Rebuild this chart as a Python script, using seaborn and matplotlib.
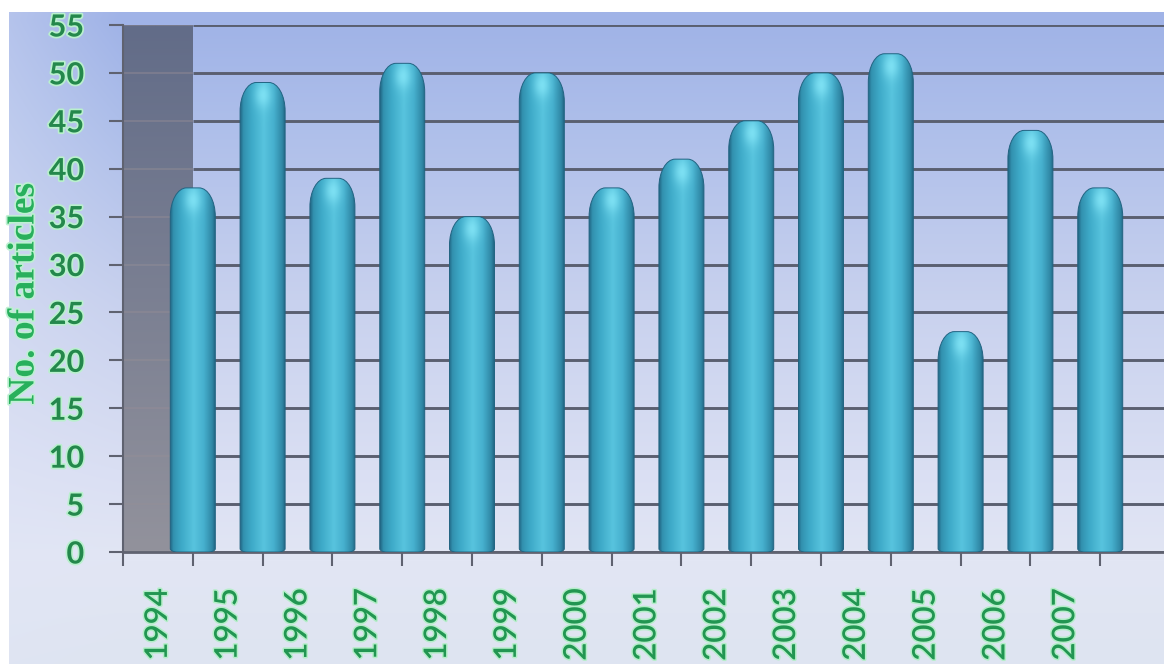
import numpy as np
import pandas as pd
import matplotlib
matplotlib.use("Agg")
import matplotlib.pyplot as plt
import matplotlib.patheffects as pe
from matplotlib.path import Path
from matplotlib.patches import PathPatch
import seaborn as sns

# Articles published per year
years = ["1994", "1995", "1996", "1997", "1998", "1999", "2000",
         "2001", "2002", "2003", "2004", "2005", "2006", "2007"]
articles = [38, 49, 39, 51, 35, 50, 38, 41, 45, 50, 52, 23, 44, 38]
y_ticks = list(range(0, 56, 5))
y_label = "No. of articles"

W, H = 1164, 664
DPI = 100

sns.set_theme(style="white")
plt.rcParams["font.family"] = ["Lato", "DejaVu Sans"]

fig = plt.figure(figsize=(W / DPI, H / DPI), dpi=DPI)


def rgb(*c):
    return tuple(v / 255 for v in c)


# ---- figure background: soft blue-to-lavender vertical gradient ----
bg = fig.add_axes([0, 0, 1, 1], zorder=-10)
bg.set_axis_off()
rows = np.arange(H)
stops_y = [0, 20, 120, 300, 470, 560, 664]
stops_c = np.array([[162, 180, 232], [160, 179, 231], [173, 190, 234],
                    [200, 209, 238], [218, 223, 243], [226, 230, 244],
                    [222, 228, 241]]) / 255
col = np.stack([np.interp(rows, stops_y, stops_c[:, k]) for k in range(3)], axis=1)
img = np.repeat(col[:, None, :], W, axis=1)
# lighter band behind the axis labels on the left
xs = np.arange(W)
lift = np.clip(1 - xs / 120, 0, 1)[None, :, None] * 0.35
img = img + (np.array(rgb(225, 230, 246))[None, None, :] - img) * lift
img[:12, :, :] = 1.0
img[:, :9, :] = 1.0
bg.imshow(img, extent=(0, 1, 0, 1), aspect="auto", interpolation="bilinear")
bg.set_xlim(0, 1)
bg.set_ylim(0, 1)

# ---- main axes (front-left corner of the floor at x = -1) ----
x_left_px, y_top_px, y_bot_px = 123, 25, 552
step_px = 69.8
ax = fig.add_axes([x_left_px / W, (H - y_bot_px) / H,
                   (W - x_left_px) / W, (y_bot_px - y_top_px) / H])
ax.patch.set_alpha(0)

df = pd.DataFrame({"year": years, "articles": articles})
sns.barplot(data=df, x="year", y="articles", ax=ax, width=0.645,
            color="#3fa9c7", saturation=1, zorder=3)

xmax = -1 + (W - x_left_px) / step_px
n = len(years)

# side wall of the box
wall = np.linspace(0, 1, 128)[:, None]
top_c, bot_c = np.array(rgb(98, 108, 136)), np.array(rgb(146, 146, 156))
wall_img = (top_c[None, None, :] * (1 - wall[:, :, None]) + bot_c[None, None, :] * wall[:, :, None])
wall_img = np.repeat(wall_img, 4, axis=1)
ax.imshow(wall_img, extent=(-1, 0, 0, 55), aspect="auto", zorder=0.5,
          interpolation="bilinear")

# gridlines: back wall and faint ones across the side wall
ax.hlines(y_ticks, 0, xmax + 1, color=rgb(90, 95, 112), lw=2.1, zorder=1)
ax.hlines(y_ticks[1:], -1, 0, color=rgb(150, 142, 150), lw=1.2, alpha=0.5, zorder=0.7)


def cylinder_path(x0, w, h, rx, ry, rbx, rby):
    k = 0.5523
    x1 = x0 + w
    verts = [
        (x0, rby),
        (x0, h - ry),
        (x0, h - ry + k * ry), (x0 + rx - k * rx, h), (x0 + rx, h),
        (x1 - rx, h),
        (x1 - rx + k * rx, h), (x1, h - ry + k * ry), (x1, h - ry),
        (x1, rby),
        (x1, rby - k * rby), (x1 - rbx + k * rbx, 0), (x1 - rbx, 0),
        (x0 + rbx, 0),
        (x0 + rbx - k * rbx, 0), (x0, rby - k * rby), (x0, rby),
        (x0, rby),
    ]
    codes = ([Path.MOVETO, Path.LINETO] + [Path.CURVE4] * 3 + [Path.LINETO]
             + [Path.CURVE4] * 3 + [Path.LINETO] + [Path.CURVE4] * 3
             + [Path.LINETO] + [Path.CURVE4] * 3 + [Path.CLOSEPOLY])
    return Path(verts, codes)


# horizontal shading profile of a cylinder
prof_u = [0.0, 0.07, 0.25, 0.52, 0.74, 0.92, 1.0]
prof_c = np.array([[34, 104, 134], [50, 145, 175], [62, 170, 200],
                   [88, 196, 222], [70, 176, 206], [48, 136, 166],
                   [32, 98, 128]]) / 255
nx, ny = 64, 400
u = np.linspace(0, 1, nx)
base = np.stack([np.interp(u, prof_u, prof_c[:, k]) for k in range(3)], axis=1)
hi_c = np.array(rgb(140, 236, 252))

for p in list(ax.patches):
    x0, w, h = p.get_x(), p.get_width(), p.get_height()
    p.set_visible(False)
    ys = np.linspace(h, 0, ny)
    depth = (h - ys)[:, None]
    shade = np.repeat(base[None, :, :], ny, axis=0)
    glow = np.exp(-((u[None, :] - 0.5) / 0.18) ** 2) * np.exp(-((depth - 1.3) / 1.3) ** 2)
    shade = shade + (hi_c[None, None, :] - shade) * (0.7 * glow[:, :, None])
    outline = cylinder_path(x0, w, h, rx=0.36 * w, ry=3.0, rbx=0.1, rby=0.35)
    patch = PathPatch(outline, facecolor="none", edgecolor=rgb(34, 100, 130),
                      lw=0.7, zorder=3.2)
    ax.add_patch(patch)
    im = ax.imshow(shade, extent=(x0, x0 + w, 0, h), aspect="auto",
                   zorder=3.1, interpolation="bilinear")
    im.set_clip_path(patch)

ax.set_xlim(-1, xmax)
ax.set_ylim(0, 55)

# ---- axes styling ----
for side in ("top", "right"):
    ax.spines[side].set_visible(False)
axis_c = rgb(95, 98, 112)
ax.spines["left"].set_color(axis_c)
ax.spines["left"].set_linewidth(1.5)
ax.spines["bottom"].set_color(axis_c)
ax.spines["bottom"].set_linewidth(2.0)

halo = [pe.withStroke(linewidth=2.5, foreground=rgb(185, 240, 205))]

ax.set_yticks(y_ticks)
ax.set_yticklabels([str(v) for v in y_ticks])
ax.tick_params(axis="y", length=10, width=1.5, color=axis_c, pad=18,
               left=True, direction="out")
for t in ax.get_yticklabels():
    t.set_fontsize(22)
    t.set_fontweight("bold")
    t.set_color(rgb(36, 136, 76))
    t.set_path_effects(halo)

ax.set_xticks(np.arange(n) - 0.5)
ax.set_xticklabels(years, rotation=90)
ax.set_xticks(np.arange(-1, n), minor=True)
ax.tick_params(axis="x", which="major", length=0, pad=26)
ax.tick_params(axis="x", which="minor", length=10, width=1.5, color=axis_c,
               bottom=True, direction="out")
for t in ax.get_xticklabels():
    t.set_fontsize(22.5)
    t.set_fontweight("semibold")
    t.set_color(rgb(34, 150, 82))
    t.set_va("top")
    t.set_path_effects([pe.withStroke(linewidth=2.2, foreground=rgb(180, 238, 200))])

ax.set_xlabel("")
ax.set_ylabel("")
ax.grid(False)

fig.text(24 / W, 1 - 294 / H, y_label, rotation=90, ha="center", va="center",
         family=["Liberation Serif", "DejaVu Serif"], fontweight="bold",
         fontsize=27, color=rgb(40, 176, 92),
         path_effects=[pe.withStroke(linewidth=2.5, foreground=rgb(190, 240, 210))])

fig.savefig("out.png", dpi=DPI)
